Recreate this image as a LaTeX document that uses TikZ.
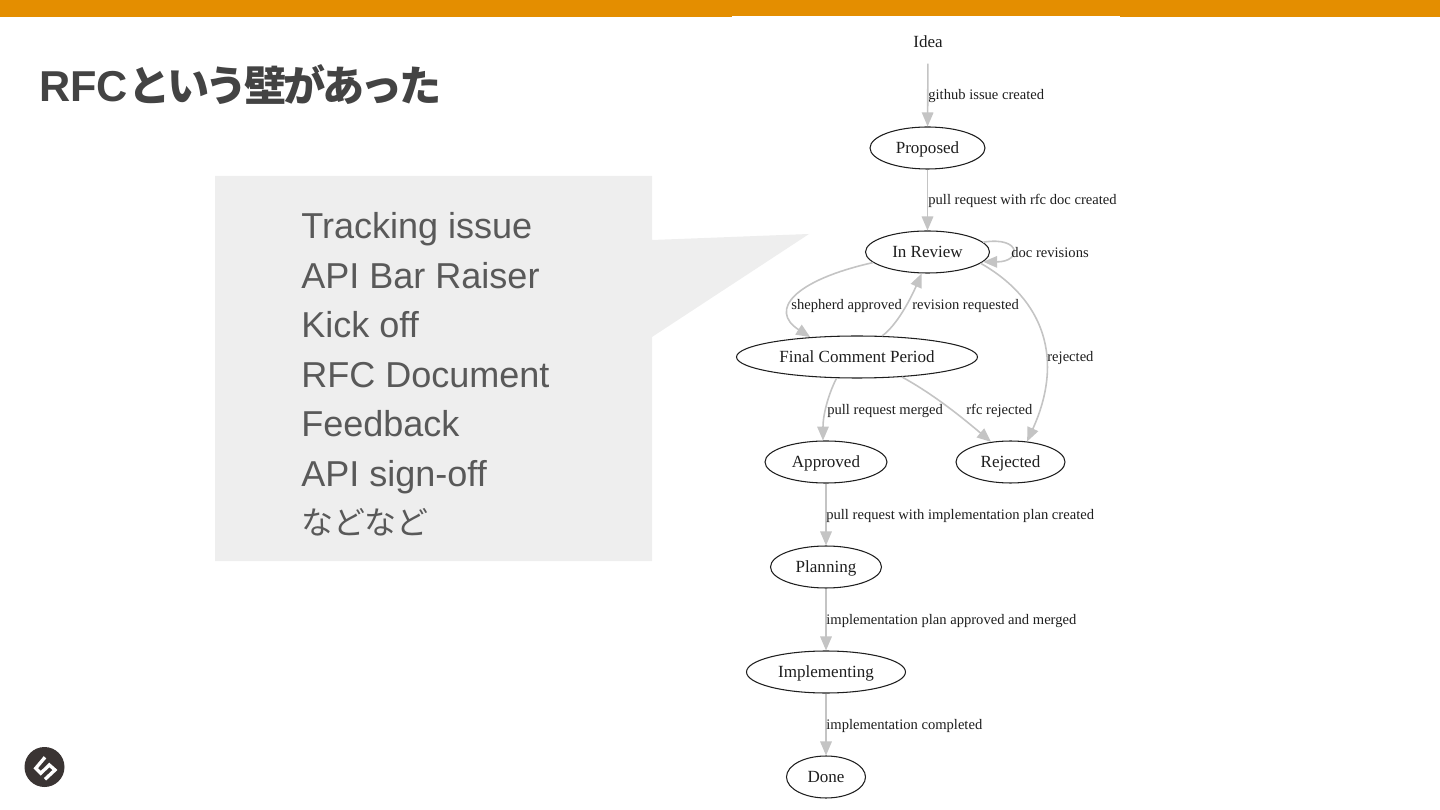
\documentclass[tikz,border=0pt]{standalone}
\usepackage{xcolor}
\usepackage{fontspec}
\usetikzlibrary{shapes.geometric, arrows.meta}
\setmainfont{Liberation Sans}
\newfontfamily\graphfont{Liberation Serif}
\newfontfamily\jpfont{Noto Sans CJK JP}
\newfontfamily\jptitle[LetterSpace=-8]{Noto Sans CJK JP}
\definecolor{barorange}{RGB}{228, 142, 0}
\definecolor{calloutgray}{RGB}{238, 238, 238}
\definecolor{bodygray}{RGB}{89, 89, 89}
\definecolor{titlegray}{RGB}{67, 67, 67}
\definecolor{edgegray}{RGB}{196, 196, 196}
\definecolor{logodark}{RGB}{58, 52, 51}
\definecolor{graphink}{RGB}{30, 30, 30}
\tikzset{
    state/.style={ellipse, draw=graphink, text=graphink, line width=0.6pt, inner sep=0pt, minimum height=0.84cm, text height=8.4pt, text depth=2pt, font=\graphfont\fontsize{9.7}{11}\selectfont},
    edge/.style={draw=edgegray, line width=0.9pt, -{Triangle[length=0.28cm, width=0.23cm, fill=edgegray]}},
    edgelabel/.style={anchor=west, inner sep=0pt, text=graphink, font=\graphfont\fontsize{8.3}{10}\selectfont},
    bodyline/.style={anchor=base west, inner sep=0pt, text=bodygray, font=\fontsize{20.5}{25}\selectfont}
}

\begin{document}
\begin{tikzpicture}[x=0.02cm, y=-0.02cm]
    \useasboundingbox (0,0) rectangle (1440,810);

    % Top bar
    \fill[barorange] (0,0) rectangle (1440,17);
    \fill[white] (732,16) rectangle (1120,810);

    % Title
    \node[anchor=base west, inner sep=0pt, text=titlegray, font=\bfseries\fontsize{24.6}{30}\selectfont] (title) at (39,102) {RFC{\jptitle\fontsize{24}{30}\selectfont という壁があった}};

    % Callout
    \fill[calloutgray] (215,176) -- (652,176) -- (652,240) -- (809,234) -- (652,337) -- (652,561) -- (215,561) -- cycle;
    \foreach \name/\y/\txt in {tracking/239/Tracking issue, raiser/289/API Bar Raiser, kickoff/338/Kick off, document/388/RFC Document, feedback/437/Feedback, signoff/487/API sign-off} {
        \node[bodyline] (\name) at (301,\y) {\txt};
    }
    \node[bodyline, font=\jpfont\fontsize{18.2}{25}\selectfont] (etc) at (301,535) {などなど};

    % Logo
    \fill[logodark] (44.5,767) circle (20);
    \draw[white, line width=1.9pt, line join=miter] (45,757.3) -- (35.7,768.3) -- (40.7,773.3) -- (49.3,765) -- (55,770) -- (45,779.3);

    % States
    \node[state, draw=none] (idea) at (928,42) {Idea};
    \node[state, minimum width=2.3cm] (proposed) at (927.5,148) {Proposed};
    \node[state, minimum width=2.48cm] (inreview) at (927.5,252) {In Review};
    \node[state, minimum width=4.82cm] (fcp) at (857,357) {Final Comment Period};
    \node[state, minimum width=2.44cm] (approved) at (826,462) {Approved};
    \node[state, minimum width=2.18cm] (rejected) at (1010.5,462) {Rejected};
    \node[state, minimum width=2.22cm] (planning) at (826,567) {Planning};
    \node[state, minimum width=3.18cm] (implementing) at (826,672) {Implementing};
    \node[state, minimum width=1.58cm] (done) at (826,777) {Done};

    % Edges
    \draw[edge] (idea) -- (proposed);
    \draw[edge] (proposed) -- (inreview);
    \draw[edge] (inreview.10) .. controls (1022,236) and (1022,262) .. (inreview.-10);
    \draw[edge] (inreview.191) .. controls (795,280) and (768,310) .. (fcp.157);
    \draw[edge] (fcp.40) .. controls (897,325) and (910,300) .. (inreview.255);
    \draw[edge] (inreview.-12) .. controls (1045,300) and (1064,360) .. (rejected.51);
    \draw[edge] (fcp.226) .. controls (828,395) and (823,415) .. (approved.98);
    \draw[edge] (fcp.-24) .. controls (935,395) and (965,420) .. (rejected.134);
    \draw[edge] (approved) -- (planning);
    \draw[edge] (planning) -- (implementing);
    \draw[edge] (implementing) -- (done);

    % Edge labels
    \foreach \name/\x/\y/\txt in {lblissue/928/96/github issue created, lblpull/928/201/pull request with rfc doc created, lblrevs/1011/253/doc revisions, lblshep/791/306/shepherd approved, lblreq/912/306/revision requested, lblrej/1047/358/rejected, lblmerged/827/411/pull request merged, lblrfc/966/411/rfc rejected, lblplan/826/516/pull request with implementation plan created, lblappr/826/621/implementation plan approved and merged, lblcompl/826/726/implementation completed} {
        \node[edgelabel] (\name) at (\x,\y) {\txt};
    }
\end{tikzpicture}
\end{document}
